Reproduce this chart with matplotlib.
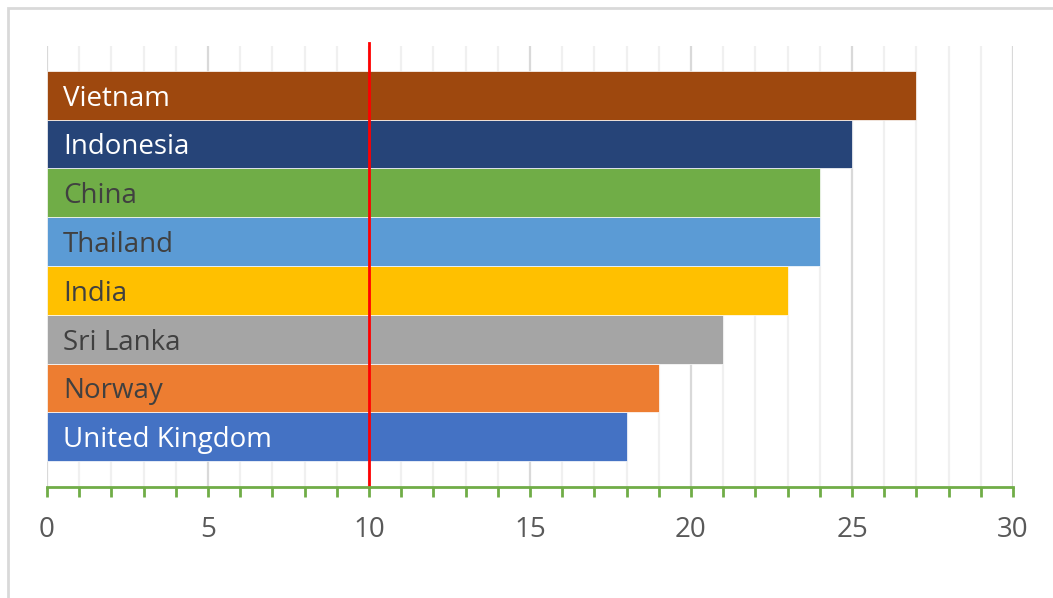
import matplotlib
matplotlib.use("Agg")
import matplotlib.pyplot as plt
from matplotlib.patches import Rectangle

countries = ["United Kingdom", "Norway", "Sri Lanka", "India",
             "Thailand", "China", "Indonesia", "Vietnam"]
values = [18, 19, 21, 23, 24, 24, 25, 27]
colors = ["#4472C4", "#ED7D31", "#A5A5A5", "#FFC000",
          "#5B9BD5", "#70AD47", "#264478", "#9E480E"]
label_colors = ["white", "#404040", "#404040", "#404040",
                "#404040", "#404040", "white", "white"]
threshold = 10
x_ticks = [0, 5, 10, 15, 20, 25, 30]

plt.rcParams["font.family"] = ["Open Sans", "DejaVu Sans"]

W, H = 1053, 598
fig = plt.figure(figsize=(W / 100, H / 100), dpi=100)

# outer chart frame
fig.patches.append(Rectangle((8 / W, -0.01), 1.2, (H - 8) / H + 0.01,
                             transform=fig.transFigure, fill=False,
                             edgecolor="#D9D9D9", linewidth=2))

ax = fig.add_axes([47 / W, (H - 487) / H, (1013 - 47) / W, (487 - 46) / H])

# gridlines: light every unit, darker every five
for v in range(0, 31):
    major = v % 5 == 0
    ax.axvline(v, color="#D9D9D9" if major else "#F0F0F0",
               linewidth=1.6, zorder=0)

pos = list(range(len(countries)))
ax.barh(pos, values, height=1.0, color=colors, edgecolor="white",
        linewidth=0.5, zorder=2)

for p, name, tc in zip(pos, countries, label_colors):
    ax.text(0.5, p - 0.07, name, color=tc, fontsize=20, va="center",
            ha="left", zorder=4)

ax.plot([threshold, threshold], [-1.03, 8.08], color="#FF0000",
        linewidth=2, zorder=3, clip_on=False)

ax.set_xlim(0, 30)
ax.set_ylim(-1.03, 8.01)
ax.set_yticks([])
ax.set_xticks(x_ticks)
ax.set_xticks(range(0, 31), minor=True)
ax.tick_params(axis="x", which="both", direction="out", length=7,
               width=2, color="#70AD47", labelcolor="#595959",
               labelsize=20, pad=14)
for s in ["top", "right", "left"]:
    ax.spines[s].set_visible(False)
ax.spines["bottom"].set_color("#70AD47")
ax.spines["bottom"].set_linewidth(2)
ax.spines["bottom"].set_zorder(5)

fig.savefig("out.png", dpi=100)
